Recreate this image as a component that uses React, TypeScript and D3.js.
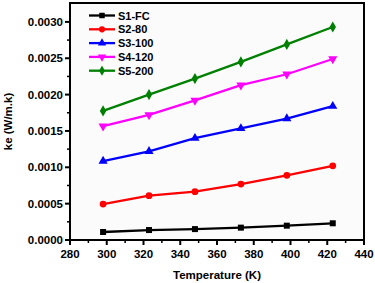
import React from "react";
import * as d3 from "d3";

const temps = [298, 323, 348, 373, 398, 423];
const s1 = [0.00011, 0.000137, 0.00015, 0.00017, 0.000197, 0.00023];
const s2 = [0.000495, 0.00061, 0.000665, 0.00077, 0.00089, 0.00102];
const s3 = [0.001085, 0.00122, 0.0014, 0.001534, 0.00167, 0.00184];
const s4 = [0.001566, 0.00172, 0.00192, 0.00213, 0.00228, 0.00249];
const s5 = [0.001776, 0.002, 0.00222, 0.00245, 0.00269, 0.00293];
const seriesNames = ["S1-FC", "S2-80", "S3-100", "S4-120", "S5-200"];
const seriesColors = ["#000000", "#ff0000", "#0000ff", "#ff00ff", "#008000"];
const seriesSymbols = [d3.symbolSquare, d3.symbolCircle, d3.symbolTriangle, d3.symbolTriangle, d3.symbolDiamond];
const xTicks = [280, 300, 320, 340, 360, 380, 400, 420, 440];
const yTicks = [0, 0.0005, 0.001, 0.0015, 0.002, 0.0025, 0.003];

export default function App() {
  const W = 375, H = 283;
  const L = 70, R = 364, T = 3, B = 240;
  const x = d3.scaleLinear().domain([280, 440]).range([L, R]);
  const y = d3.scaleLinear().domain([0, 0.00326]).range([B, T]);
  const all = [s1, s2, s3, s4, s5];
  const line = d3.line<number>().x((_, i) => x(temps[i])).y((d) => y(d));
  const font = "'Liberation Sans', Arial, sans-serif";
  const minorX = d3.range(290, 440, 20);
  const minorY = d3.range(0.00025, 0.0032, 0.0005);
  const sym = (i: number, size: number) => d3.symbol().type(seriesSymbols[i]).size(size)()!;
  return (
    <svg width={W} height={H} style={{ position: "absolute", left: 0, top: 0, background: "#fff" }}>
      <rect x={L} y={T} width={R - L} height={B - T} fill="#fbfbfb" stroke="none" />
      {all.map((s, i) => (
        <g key={i}>
          <path d={line(s)!} fill="none" stroke={seriesColors[i]} strokeWidth={2.3} />
          {s.map((v, j) => (
            <path key={j} d={sym(i, 36)} fill={seriesColors[i]}
              transform={`translate(${x(temps[j])},${y(v)})${i === 3 ? " rotate(180)" : ""}`} />
          ))}
        </g>
      ))}
      <rect x={L} y={T} width={R - L} height={B - T} fill="none" stroke="#000" strokeWidth={2} />
      {xTicks.map((t) => (
        <g key={t}>
          <line x1={x(t)} x2={x(t)} y1={B} y2={B + 5} stroke="#000" strokeWidth={2} />
          <text x={x(t)} y={258} textAnchor="middle" fontFamily={font} fontWeight="bold" fontSize={11.5}>{t}</text>
        </g>
      ))}
      {minorX.map((t) => (
        <line key={t} x1={x(t)} x2={x(t)} y1={B} y2={B + 3} stroke="#000" strokeWidth={1.5} />
      ))}
      {yTicks.map((t) => (
        <g key={t}>
          <line x1={L - 5} x2={L} y1={y(t)} y2={y(t)} stroke="#000" strokeWidth={2} />
          <text x={63} y={y(t) + 4} textAnchor="end" fontFamily={font} fontWeight="bold" fontSize={11.5}>{t.toFixed(4)}</text>
        </g>
      ))}
      {minorY.map((t) => (
        <line key={t} x1={L - 3} x2={L} y1={y(t)} y2={y(t)} stroke="#000" strokeWidth={1.5} />
      ))}
      <text transform={`translate(12,${(T + B) / 2}) rotate(-90)`} textAnchor="middle" fontFamily={font} fontWeight="bold" fontSize={11.5}>ke (W/m.k)</text>
      <text x={(L + R) / 2} y={279} textAnchor="middle" fontFamily={font} fontWeight="bold" fontSize={11.5}>Temperature (K)</text>
      {seriesNames.map((n, i) => {
        const ly = 15.5 + i * 13.8;
        return (
          <g key={n}>
            <line x1={89} x2={115} y1={ly} y2={ly} stroke={seriesColors[i]} strokeWidth={2.3} />
            <path d={sym(i, 30)} fill={seriesColors[i]} transform={`translate(102,${ly})${i === 3 ? " rotate(180)" : ""}`} />
            <text x={118} y={ly + 4} fontFamily={font} fontWeight="bold" fontSize={11}>{n}</text>
          </g>
        );
      })}
    </svg>
  );
}
